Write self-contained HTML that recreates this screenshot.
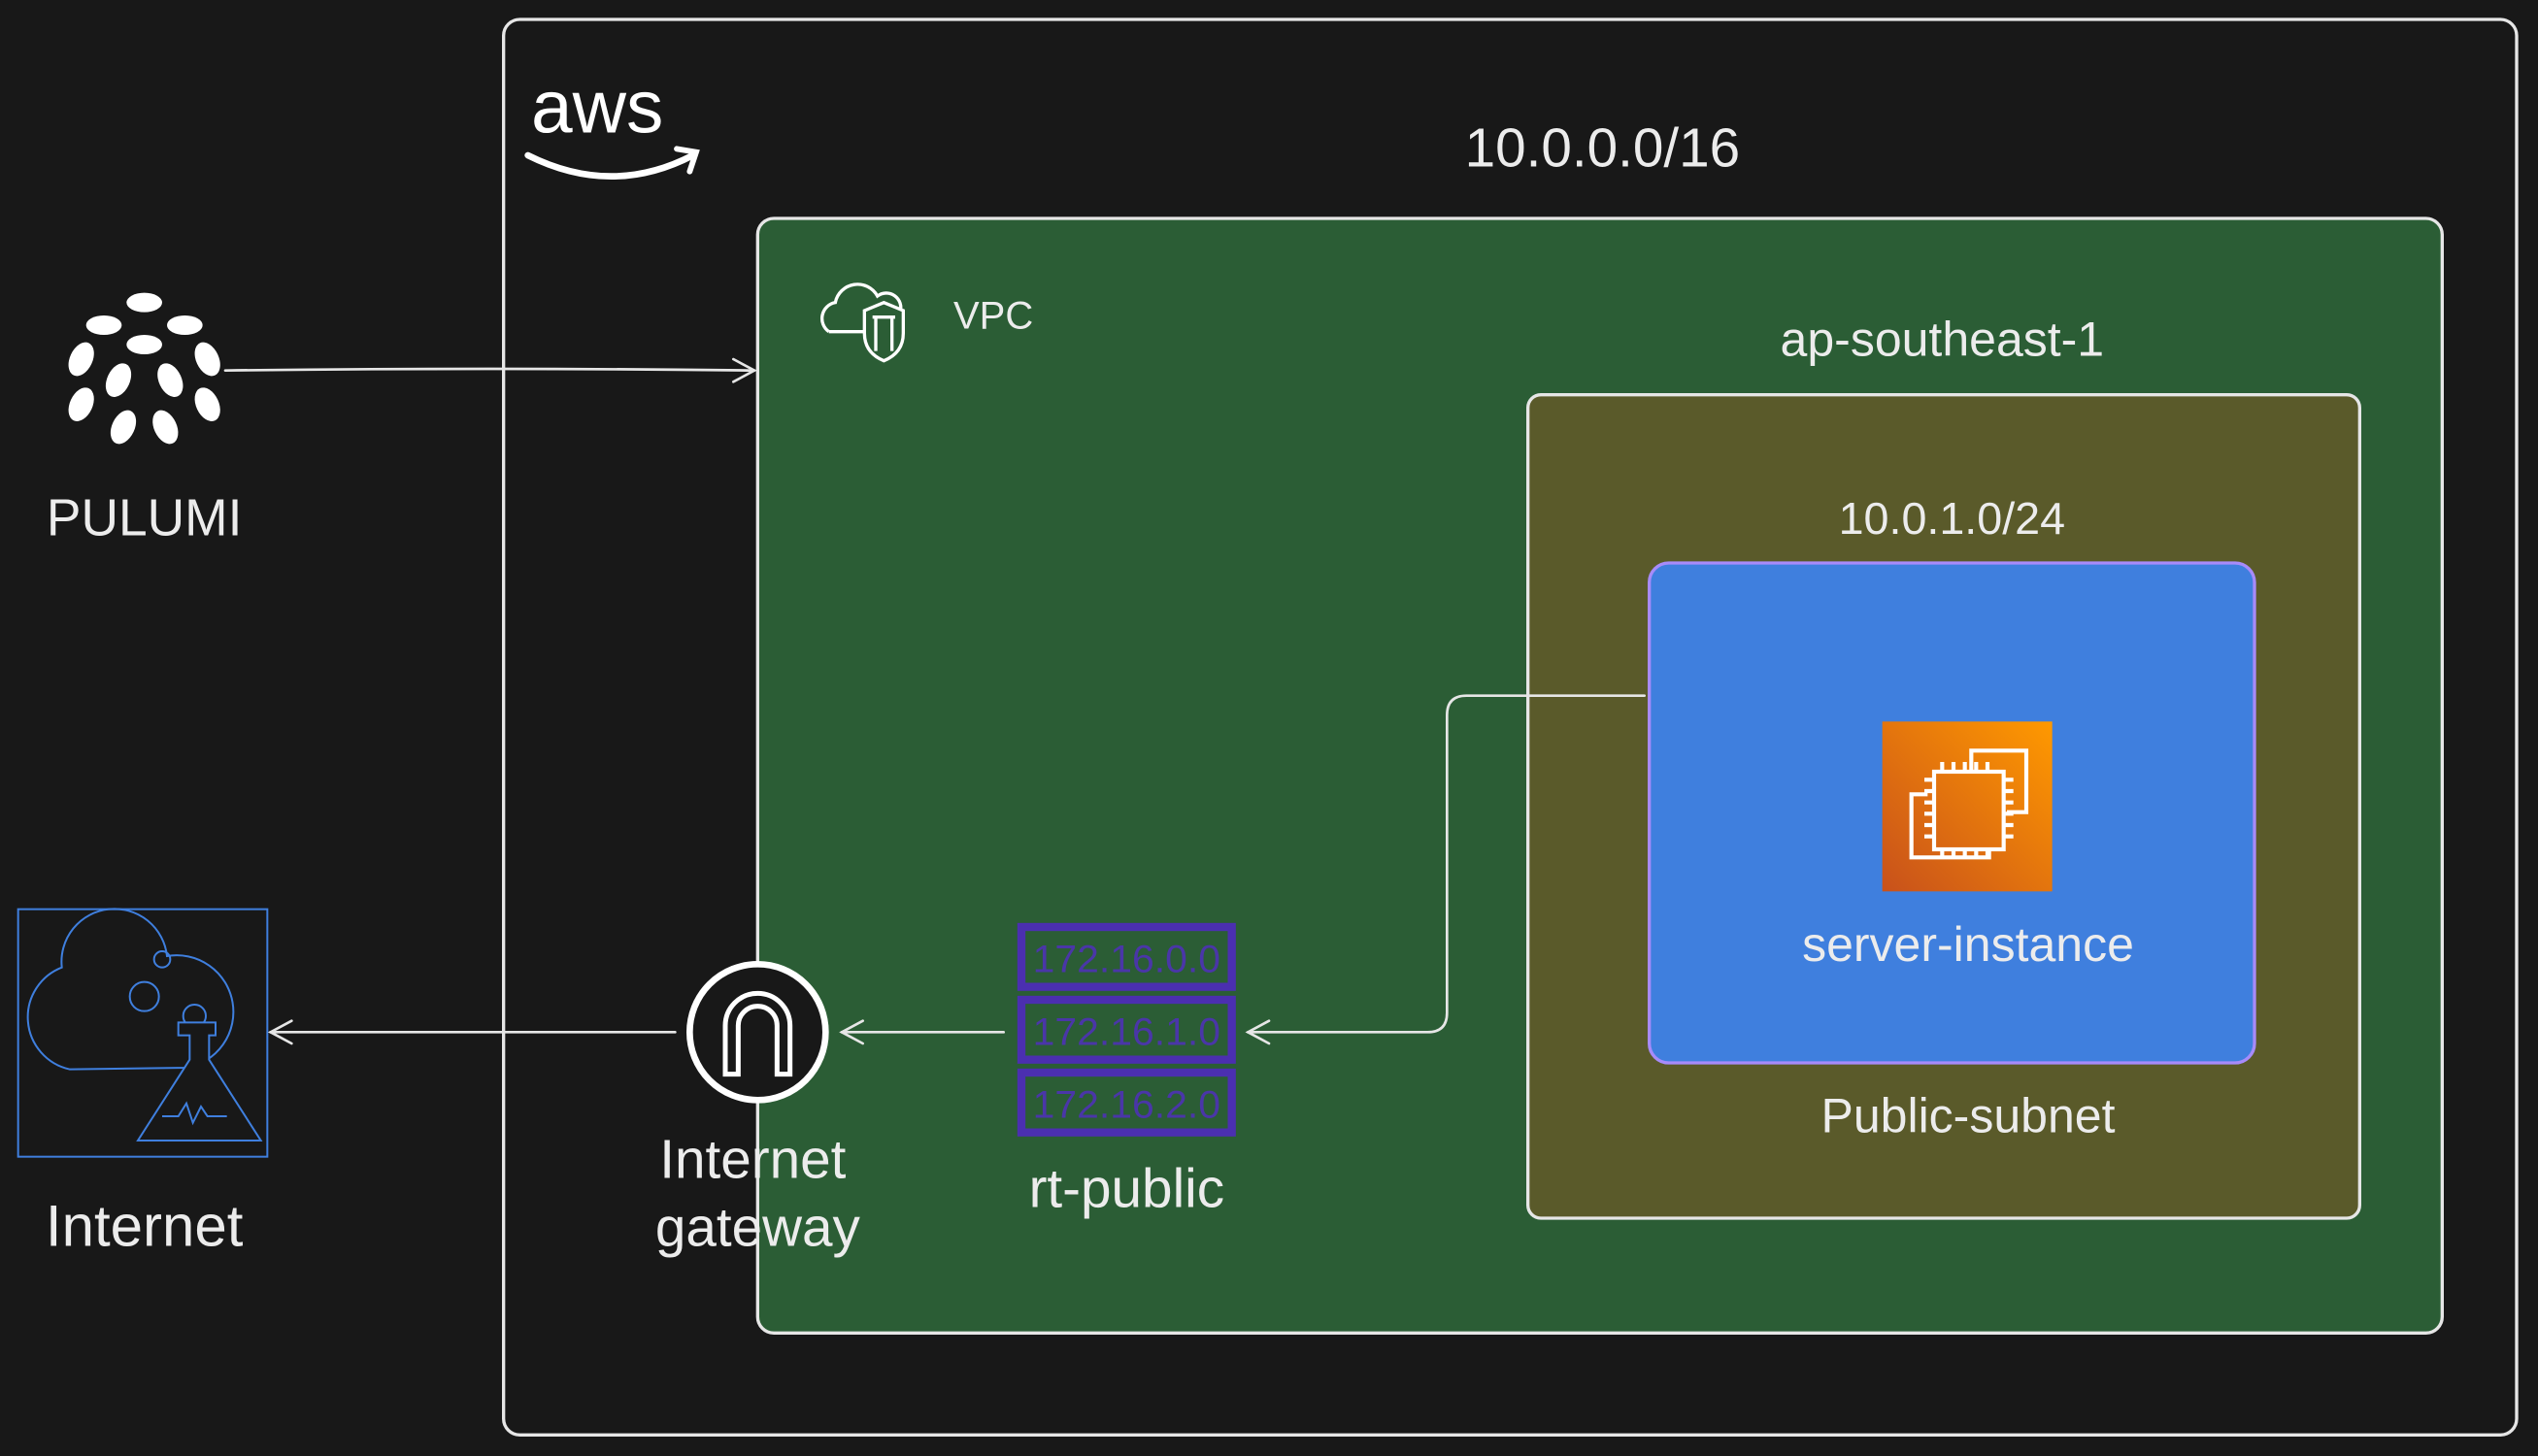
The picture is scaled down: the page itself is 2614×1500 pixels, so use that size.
<!DOCTYPE html>
<html><head><meta charset="utf-8"><style>
html,body{margin:0;padding:0;background:#181818;}
svg{display:block;}
text{font-family:"Liberation Sans",sans-serif;fill:#ececec;}
text.rt{fill:#4a36a8;}
</style></head><body>
<svg width="2614" height="1500" viewBox="0 0 1568 900" xmlns="http://www.w3.org/2000/svg">
<defs>
<linearGradient id="og" x1="0" y1="1" x2="1" y2="0"><stop offset="0" stop-color="#c8511b"/><stop offset="1" stop-color="#ff9900"/></linearGradient>
</defs>
<rect width="1568" height="900" fill="#181818"/>
<rect x="311" y="12" width="1244" height="875" rx="10" fill="none" stroke="#e6e6e6" stroke-width="2"/>
<text x="328" y="82" font-size="46" style="fill:#fff">aws</text>
<path d="M326 96 Q378 122 428 96" fill="none" stroke="#fff" stroke-width="4" stroke-linecap="round"/>
<path d="M418 92 L430 94 L426 106" fill="none" stroke="#fff" stroke-width="3.5" stroke-linecap="round"/>
<text x="990" y="103" font-size="34" text-anchor="middle">10.0.0.0/16</text>
<rect x="468" y="135" width="1041" height="689" rx="10" fill="#2b5d35" stroke="#e6e6e6" stroke-width="2"/>
<path d="M512 205 a10 10 0 0 1 4 -18 a14 14 0 0 1 26 -4 a9 9 0 0 1 14 10" fill="none" stroke="#fff" stroke-width="2"/>
<path d="M512 205 h22" stroke="#fff" stroke-width="2"/>
<path d="M534 192 l12 -5 l12 5 v14 q0 12 -12 17 q-12 -5 -12 -17z" fill="#2b5d35" stroke="#fff" stroke-width="2"/>
<path d="M541 197 v20 M551 197 v20 M539 196 h14" stroke="#fff" stroke-width="2" fill="none"/>
<text x="589" y="203" font-size="24">VPC</text>
<text x="1200" y="220" font-size="30" text-anchor="middle">ap-southeast-1</text>
<rect x="944" y="244" width="514" height="509" rx="8" fill="#5a5a2a" stroke="#e6e6e6" stroke-width="2"/>
<text x="1206" y="330" font-size="28" text-anchor="middle">10.0.1.0/24</text>
<text x="1216" y="700" font-size="30" text-anchor="middle">Public-subnet</text>
<rect x="1019" y="348" width="374" height="309" rx="12" fill="#3f7fde" stroke="#a78bfa" stroke-width="2"/>
<rect x="1163" y="446" width="105" height="105" fill="url(#og)"/>
<g fill="none" stroke="#fff" stroke-width="2.5">
<rect x="1195" y="477" width="43" height="48"/>
<path d="M1218 477 v-13 h34 v38 h-12"/>
<path d="M1191 491 h-10 v39 h48 v-5"/>
<path d="M1200 477 v-6 M1207 477 v-6 M1214 477 v-6 M1221 477 v-6 M1228 477 v-6 M1200 525 v6 M1207 525 v6 M1214 525 v6 M1221 525 v6 M1228 525 v6 M1195 482 h-6 M1195 489 h-6 M1195 496 h-6 M1195 503 h-6 M1195 510 h-6 M1195 517 h-6 M1238 482 h6 M1238 489 h6 M1238 496 h6 M1238 503 h6 M1238 510 h6 M1238 517 h6"/>
</g>
<text x="1216" y="594" font-size="30" text-anchor="middle">server-instance</text>
<rect x="631" y="573" width="130" height="37" fill="none" stroke="#4b2fb0" stroke-width="5"/>
<rect x="631" y="618" width="130" height="37" fill="none" stroke="#4b2fb0" stroke-width="5"/>
<rect x="631" y="663" width="130" height="37" fill="none" stroke="#4b2fb0" stroke-width="5"/>
<text class="rt" x="638" y="601" font-size="24" textLength="116" lengthAdjust="spacingAndGlyphs">172.16.0.0</text>
<text class="rt" x="638" y="646" font-size="24" textLength="116" lengthAdjust="spacingAndGlyphs">172.16.1.0</text>
<text class="rt" x="638" y="691" font-size="24" textLength="116" lengthAdjust="spacingAndGlyphs">172.16.2.0</text>
<text x="696" y="746" font-size="34" text-anchor="middle">rt-public</text>
<circle cx="468" cy="638" r="42" fill="#181818" stroke="#fff" stroke-width="4"/>
<path d="M448 664 v-30 a20 20 0 0 1 40 0 v30 h-8 v-30 a12 12 0 0 0 -24 0 v30z" fill="none" stroke="#fff" stroke-width="3"/>
<text x="465" y="728" font-size="34" text-anchor="middle">Internet</text>
<text x="468" y="770" font-size="34" text-anchor="middle">gateway</text>
<g fill="#fff">
<ellipse cx="89" cy="187" rx="11" ry="6"/>
<ellipse cx="64" cy="201" rx="11" ry="6"/><ellipse cx="114" cy="201" rx="11" ry="6"/>
<ellipse cx="89" cy="213" rx="11" ry="6"/>
<ellipse cx="50" cy="222" rx="7" ry="11" transform="rotate(25 50 222)"/>
<ellipse cx="128" cy="222" rx="7" ry="11" transform="rotate(-25 128 222)"/>
<ellipse cx="73" cy="235" rx="7" ry="11" transform="rotate(25 73 235)"/>
<ellipse cx="105" cy="235" rx="7" ry="11" transform="rotate(-25 105 235)"/>
<ellipse cx="50" cy="250" rx="7" ry="11" transform="rotate(25 50 250)"/>
<ellipse cx="128" cy="250" rx="7" ry="11" transform="rotate(-25 128 250)"/>
<ellipse cx="76" cy="264" rx="7" ry="11" transform="rotate(25 76 264)"/>
<ellipse cx="102" cy="264" rx="7" ry="11" transform="rotate(-25 102 264)"/>
</g>
<text x="89" y="331" font-size="32" text-anchor="middle">PULUMI</text>
<rect x="11" y="562" width="154" height="153" fill="none" stroke="#3f7fde" stroke-width="1.2"/>
<g fill="none" stroke="#3f7fde" stroke-width="1.2">
<path d="M43 661 a33 33 0 0 1 -5 -63 a30 30 0 0 1 65 -7 a25 25 0 0 1 12 69z"/>
<circle cx="89" cy="616" r="9"/><circle cx="100" cy="593" r="5"/><circle cx="120" cy="628" r="7"/>
<path d="M110 632 h23 v8 h-4 v15 l32 50 h-76 l32 -50 v-15 h-7z" fill="#181818"/>
<path d="M100 690 h10 l5 -8 l4 12 l5 -10 l4 6 h12"/>
</g>
<text x="89" y="770" font-size="36" text-anchor="middle">Internet</text>
<g fill="none" stroke="#e6e6e6" stroke-width="1.6" stroke-linecap="round">
<path d="M139 229 Q300 227 466 229"/><path d="M453 222 L466 229 L453 236"/>
<path d="M417 638 L167 638"/><path d="M180 631 L167 638 L180 645"/>
<path d="M620 638 L520 638"/><path d="M533 631 L520 638 L533 645"/>
<path d="M1016 430 L906 430 Q894 430 894 442 L894 626 Q894 638 882 638 L771 638"/><path d="M784 631 L771 638 L784 645"/>
</g>
</svg>
</body></html>
